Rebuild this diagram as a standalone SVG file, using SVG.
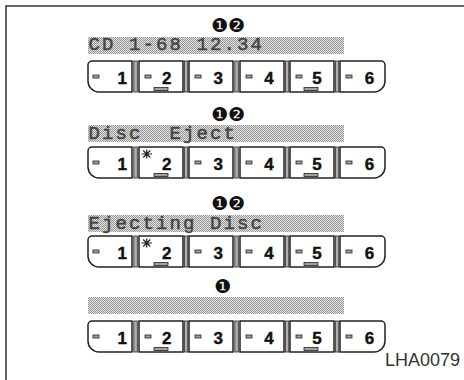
<svg xmlns="http://www.w3.org/2000/svg" width="464" height="380" viewBox="0 0 464 380">
<defs>
<pattern id="lcd" width="2" height="2" patternUnits="userSpaceOnUse">
<rect width="2" height="2" fill="#e4e4e4"/>
<rect width="1" height="1" fill="#959595"/>
<rect x="1" y="1" width="1" height="1" fill="#959595"/>
</pattern>
<style>
.frame{fill:none;stroke:#333;stroke-width:1.5}
.bar{fill:url(#lcd)}
.lcd{font-family:"Liberation Mono","DejaVu Sans Mono",monospace;font-size:19px;letter-spacing:2.1px;fill:#444;stroke:#444;stroke-width:0.5;white-space:pre}
.mark{font-family:"DejaVu Sans",sans-serif;font-size:19px;fill:#111}
.btn{fill:#fff;stroke:#222;stroke-width:1.5}
.sep{fill:#b0b0b0;stroke:#222;stroke-width:0.8}
.dash{fill:#a0a0a0;stroke:#222;stroke-width:0.8}
.ul{fill:#a0a0a0;stroke:#222;stroke-width:0.8}
.num{font-family:"Liberation Sans",Arial,sans-serif;font-size:17px;font-weight:bold;fill:#111;stroke:#111;stroke-width:0.4;text-anchor:middle}
.ast{stroke:#222;stroke-width:1.2;fill:none}
.code{font-family:"Liberation Sans",Arial,sans-serif;font-size:18px;fill:#333}
</style>
</defs>
<path class="frame" d="M6,380 V6 H464"/>

<g id="row1">
<text class="mark" x="211" y="32">❶❷</text>
<rect class="bar" x="88" y="37" width="256" height="17"/>
<text class="lcd" x="88.5" y="50" xml:space="preserve">CD 1-68 12.34</text>
<g transform="translate(0,61)">
<path class="btn" d="M132,0 H92 A4,4 0 0 0 88,4 V20 A11,11 0 0 0 99,31 H132 Z"/>
<rect class="sep" x="133.8" y="0" width="3.5" height="31"/>
<rect class="btn" x="139" y="0" width="44" height="31"/>
<rect class="sep" x="184.3" y="0" width="3.5" height="31"/>
<rect class="btn" x="189" y="0" width="44" height="31"/>
<rect class="sep" x="234.8" y="0" width="3.5" height="31"/>
<rect class="btn" x="240" y="0" width="44" height="31"/>
<rect class="sep" x="285.3" y="0" width="3.5" height="31"/>
<rect class="btn" x="290" y="0" width="44" height="31"/>
<rect class="sep" x="335.3" y="0" width="3.5" height="31"/>
<path class="btn" d="M340,0 H381 A4,4 0 0 1 385,4 V20 A11,11 0 0 1 374,31 H340 Z"/>
<rect class="dash" x="93" y="14" width="6" height="3"/>
<rect class="dash" x="145" y="14" width="6" height="3"/>
<rect class="dash" x="195" y="14" width="6" height="3"/>
<rect class="dash" x="246" y="14" width="6" height="3"/>
<rect class="dash" x="296" y="14" width="6" height="3"/>
<rect class="dash" x="346" y="14" width="6" height="3"/>
<rect class="ul" x="154" y="26.5" width="14" height="3"/>
<rect class="ul" x="304" y="26.5" width="14" height="3"/>
<text class="num" x="122.3" y="23">1</text>
<text class="num" x="166.7" y="23">2</text>
<text class="num" x="218.3" y="23">3</text>
<text class="num" x="269" y="23">4</text>
<text class="num" x="317" y="23">5</text>
<text class="num" x="369.5" y="23">6</text>
</g>
</g>

<g id="row2">
<text class="mark" x="211" y="121">❶❷</text>
<rect class="bar" x="88" y="125" width="256" height="17"/>
<text class="lcd" x="88.5" y="138.5" xml:space="preserve">Disc  Eject</text>
<g transform="translate(0,147)">
<path class="btn" d="M132,0 H92 A4,4 0 0 0 88,4 V20 A11,11 0 0 0 99,31 H132 Z"/>
<rect class="sep" x="133.8" y="0" width="3.5" height="31"/>
<rect class="btn" x="139" y="0" width="44" height="31"/>
<rect class="sep" x="184.3" y="0" width="3.5" height="31"/>
<rect class="btn" x="189" y="0" width="44" height="31"/>
<rect class="sep" x="234.8" y="0" width="3.5" height="31"/>
<rect class="btn" x="240" y="0" width="44" height="31"/>
<rect class="sep" x="285.3" y="0" width="3.5" height="31"/>
<rect class="btn" x="290" y="0" width="44" height="31"/>
<rect class="sep" x="335.3" y="0" width="3.5" height="31"/>
<path class="btn" d="M340,0 H381 A4,4 0 0 1 385,4 V20 A11,11 0 0 1 374,31 H340 Z"/>
<rect class="dash" x="93" y="14" width="6" height="3"/>
<path class="ast" d="M141.5,7 H152 M146.75,2.5 V11.5 M143.2,3.5 L150.3,10.5 M150.3,3.5 L143.2,10.5"/>
<rect class="dash" x="195" y="14" width="6" height="3"/>
<rect class="dash" x="246" y="14" width="6" height="3"/>
<rect class="dash" x="296" y="14" width="6" height="3"/>
<rect class="dash" x="346" y="14" width="6" height="3"/>
<rect class="ul" x="154" y="26.5" width="14" height="3"/>
<rect class="ul" x="304" y="26.5" width="14" height="3"/>
<text class="num" x="122.3" y="23">1</text>
<text class="num" x="166.7" y="23">2</text>
<text class="num" x="218.3" y="23">3</text>
<text class="num" x="269" y="23">4</text>
<text class="num" x="317" y="23">5</text>
<text class="num" x="369.5" y="23">6</text>
</g>
</g>

<g id="row3">
<text class="mark" x="211" y="210">❶❷</text>
<rect class="bar" x="88" y="215" width="256" height="17"/>
<text class="lcd" x="88.5" y="228.5" xml:space="preserve">Ejecting Disc</text>
<g transform="translate(0,236)">
<path class="btn" d="M132,0 H92 A4,4 0 0 0 88,4 V20 A11,11 0 0 0 99,31 H132 Z"/>
<rect class="sep" x="133.8" y="0" width="3.5" height="31"/>
<rect class="btn" x="139" y="0" width="44" height="31"/>
<rect class="sep" x="184.3" y="0" width="3.5" height="31"/>
<rect class="btn" x="189" y="0" width="44" height="31"/>
<rect class="sep" x="234.8" y="0" width="3.5" height="31"/>
<rect class="btn" x="240" y="0" width="44" height="31"/>
<rect class="sep" x="285.3" y="0" width="3.5" height="31"/>
<rect class="btn" x="290" y="0" width="44" height="31"/>
<rect class="sep" x="335.3" y="0" width="3.5" height="31"/>
<path class="btn" d="M340,0 H381 A4,4 0 0 1 385,4 V20 A11,11 0 0 1 374,31 H340 Z"/>
<rect class="dash" x="93" y="14" width="6" height="3"/>
<path class="ast" d="M141.5,7 H152 M146.75,2.5 V11.5 M143.2,3.5 L150.3,10.5 M150.3,3.5 L143.2,10.5"/>
<rect class="dash" x="195" y="14" width="6" height="3"/>
<rect class="dash" x="246" y="14" width="6" height="3"/>
<rect class="dash" x="296" y="14" width="6" height="3"/>
<rect class="dash" x="346" y="14" width="6" height="3"/>
<rect class="ul" x="154" y="26.5" width="14" height="3"/>
<rect class="ul" x="304" y="26.5" width="14" height="3"/>
<text class="num" x="122.3" y="23">1</text>
<text class="num" x="166.7" y="23">2</text>
<text class="num" x="218.3" y="23">3</text>
<text class="num" x="269" y="23">4</text>
<text class="num" x="317" y="23">5</text>
<text class="num" x="369.5" y="23">6</text>
</g>
</g>

<g id="row4">
<text class="mark" x="214" y="293">❶</text>
<rect class="bar" x="88" y="297" width="256" height="17"/>
<g transform="translate(0,321)">
<path class="btn" d="M132,0 H92 A4,4 0 0 0 88,4 V20 A11,11 0 0 0 99,31 H132 Z"/>
<rect class="sep" x="133.8" y="0" width="3.5" height="31"/>
<rect class="btn" x="139" y="0" width="44" height="31"/>
<rect class="sep" x="184.3" y="0" width="3.5" height="31"/>
<rect class="btn" x="189" y="0" width="44" height="31"/>
<rect class="sep" x="234.8" y="0" width="3.5" height="31"/>
<rect class="btn" x="240" y="0" width="44" height="31"/>
<rect class="sep" x="285.3" y="0" width="3.5" height="31"/>
<rect class="btn" x="290" y="0" width="44" height="31"/>
<rect class="sep" x="335.3" y="0" width="3.5" height="31"/>
<path class="btn" d="M340,0 H381 A4,4 0 0 1 385,4 V20 A11,11 0 0 1 374,31 H340 Z"/>
<rect class="dash" x="93" y="14" width="6" height="3"/>
<rect class="dash" x="145" y="14" width="6" height="3"/>
<rect class="dash" x="195" y="14" width="6" height="3"/>
<rect class="dash" x="246" y="14" width="6" height="3"/>
<rect class="dash" x="296" y="14" width="6" height="3"/>
<rect class="dash" x="346" y="14" width="6" height="3"/>
<rect class="ul" x="154" y="26.5" width="14" height="3"/>
<rect class="ul" x="304" y="26.5" width="14" height="3"/>
<text class="num" x="122.3" y="23">1</text>
<text class="num" x="166.7" y="23">2</text>
<text class="num" x="218.3" y="23">3</text>
<text class="num" x="269" y="23">4</text>
<text class="num" x="317" y="23">5</text>
<text class="num" x="369.5" y="23">6</text>
</g>
</g>

<text id="code" class="code" x="385" y="366">LHA0079</text>
</svg>
